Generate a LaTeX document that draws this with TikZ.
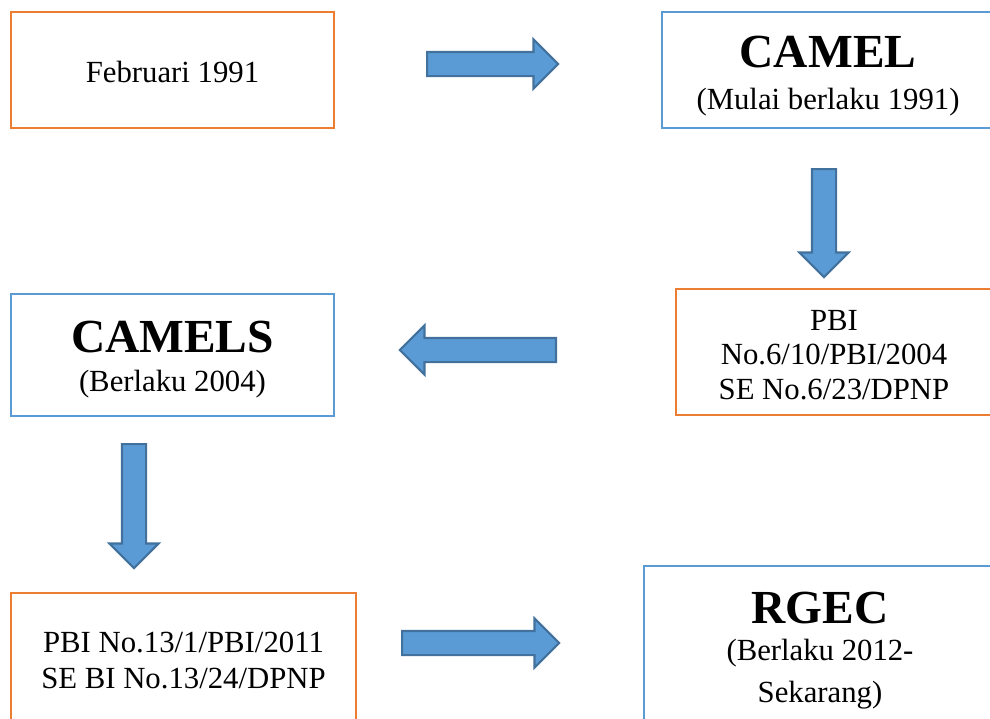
\documentclass[tikz,border=0pt]{standalone}
\usepackage{fontspec}
\setmainfont{Liberation Serif}
\usetikzlibrary{shapes.arrows}
\definecolor{boxorange}{HTML}{ED7D31}
\definecolor{boxblue}{HTML}{5B9BD5}
\definecolor{arrowline}{HTML}{41719C}
\tikzset{obox/.style = {shape=rectangle, draw=boxorange, line width=1.2pt}}
\tikzset{bbox/.style = {shape=rectangle, draw=boxblue, line width=1.2pt}}
\tikzset{txt/.style = {align=center, inner sep=0pt, font=\fontsize{17.5}{19.5}\selectfont}}
\tikzset{blk/.style = {single arrow, draw=arrowline, fill=boxblue, line width=1.2pt, inner xsep=0pt, inner ysep=0.22cm, single arrow head extend=0.25cm, minimum width=0pt, anchor=tail}}
\newcommand{\ttl}[1]{{\fontsize{27}{30}\selectfont\bfseries #1}}

\begin{document}
\begin{tikzpicture}[x=0.02cm, y=-0.02cm]
		\clip (0,0) rectangle (990,718);
		% Boxes
		\node[obox, minimum width=323*0.02cm, minimum height=116*0.02cm] (feb) at (172.5, 70) {};
		\node[bbox, minimum width=332*0.02cm, minimum height=116*0.02cm] (camel) at (828, 70) {};
		\node[obox, minimum width=316*0.02cm, minimum height=126*0.02cm] (pbi6) at (834, 352) {};
		\node[bbox, minimum width=323*0.02cm, minimum height=122*0.02cm] (camels) at (172.5, 355) {};
		\node[obox, minimum width=345*0.02cm, minimum height=129*0.02cm] (pbi13) at (183.5, 657.5) {};
		\node[bbox, minimum width=352*0.02cm, minimum height=158*0.02cm] (rgec) at (820, 645) {};
		% Texts
		\node[txt] (feb-t)    at ([yshift=-1pt]feb)    {Februari 1991};
		\node[txt] (camel-t)  at ([yshift=-3.4pt]camel)  {\ttl{CAMEL}\\[4pt](Mulai berlaku 1991)};
		\node[txt] (pbi6-t)   at ([yshift=-1.7pt]pbi6)   {PBI\\No.6/10/PBI/2004\\SE No.6/23/DPNP};
		\node[txt] (camels-t) at ([yshift=-2.6pt]camels) {\ttl{CAMELS}\\[2.5pt](Berlaku 2004)};
		\node[txt] (pbi13-t)  at ([yshift=-1.7pt]pbi13)  {PBI No.13/1/PBI/2011\\[1.5pt]SE BI No.13/24/DPNP};
		\node[txt] (rgec-t)   at ([yshift=-3pt]rgec)     {\ttl{RGEC}\\[2pt](Berlaku 2012-\\[4pt]Sekarang)};
		% Arrows
		\node[blk, minimum height=131*0.02cm] (a1) at (426, 64) {};
		\node[blk, minimum height=108*0.02cm, rotate=-90] (a2) at (824, 168) {};
		\node[blk, minimum height=156*0.02cm, rotate=180] (a3) at (557, 350) {};
		\node[blk, minimum height=124*0.02cm, rotate=-90] (a4) at (134, 443) {};
		\node[blk, minimum height=157*0.02cm] (a5) at (401, 643) {};
\end{tikzpicture}
\end{document}
